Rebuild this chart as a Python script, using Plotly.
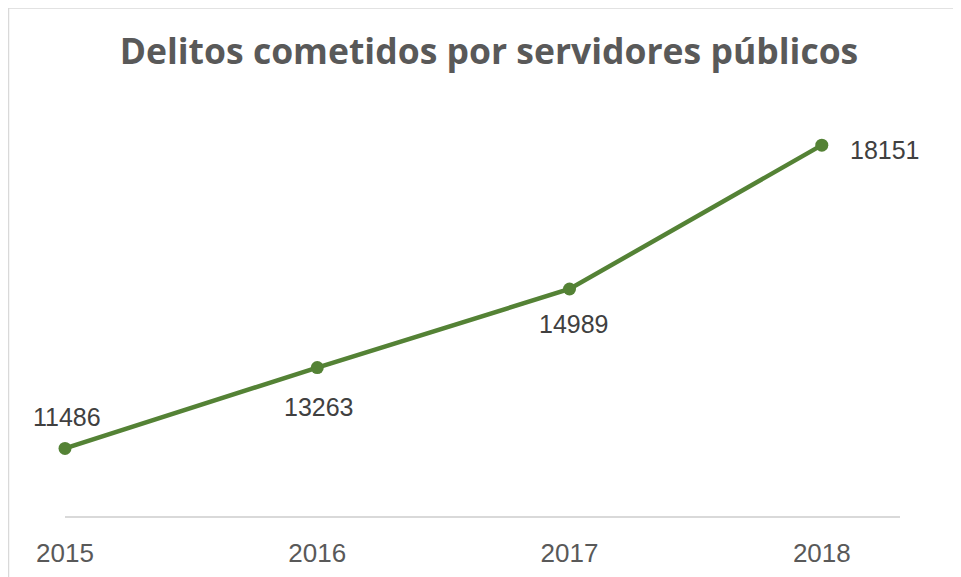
import plotly.graph_objects as go

years = ["2015", "2016", "2017", "2018"]
delitos = [11486, 13263, 14989, 18151]

# label offsets (pixels) relative to each point: (xanchor, xshift, yshift)
label_offsets = [("center", 2, 31), ("center", 2, -39), ("center", 4, -35), ("left", 26, -5)]

# page has an 8px body margin; figure coords = page coords - 8
W, H = 953, 569
L, R, T, B = 57, 61, 53, 61
pw, ph = W - L - R, H - T - B

xs = list(range(len(years)))

fig = go.Figure()
fig.add_trace(go.Scatter(
    x=xs, y=delitos,
    mode="lines+markers",
    line=dict(color="#548235", width=4.5),
    marker=dict(color="#548235", size=13),
    cliponaxis=False,
    showlegend=False,
))

annotations = [
    dict(x=x, y=v, xref="x", yref="y", text=str(v), showarrow=False,
         xanchor=xa, yanchor="middle", xshift=dx, yshift=dy,
         font=dict(family="Liberation Sans, Arial", size=25, color="#404040"))
    for x, v, (xa, dx, dy) in zip(xs, delitos, label_offsets)
]

fig.update_layout(
    width=W, height=H,
    margin=dict(l=L, r=R, t=T, b=B, autoexpand=False),
    paper_bgcolor="white", plot_bgcolor="white",
    title=dict(text="<b>Delitos cometidos por servidores públicos</b>",
               x=481 / W, xanchor="center", y=1 - 44 / H, yanchor="middle",
               font=dict(family="Open Sans", size=35.5, color="#595959")),
    xaxis=dict(range=[0, 3.31], tickvals=xs, ticktext=years,
               showgrid=False, zeroline=False, showline=True, linecolor="#d9d9d9",
               linewidth=2, ticks="", ticklabelstandoff=13, automargin=False,
               tickfont=dict(family="Liberation Sans, Arial", size=26, color="#595959")),
    yaxis=dict(range=[10000, 20000], visible=False, showgrid=False, automargin=False),
    annotations=annotations,
    shapes=[dict(type="rect", xref="paper", yref="paper",
                 x0=(0.5 - L) / pw, x1=(W + 50 - L) / pw,
                 y0=(H - B - (H + 50)) / ph, y1=(H - B - 0) / ph,
                 line=dict(color="#d9d9d9", width=1.5), fillcolor="rgba(0,0,0,0)")],
)

fig.write_html("out.html")
